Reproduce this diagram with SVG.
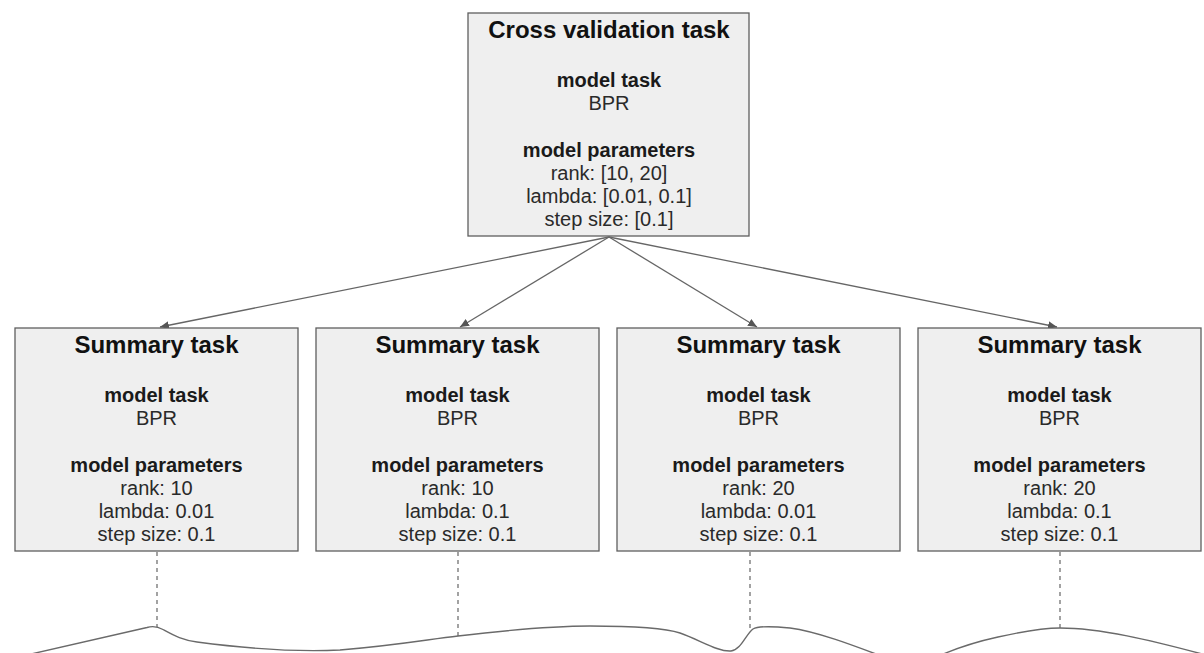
<svg xmlns="http://www.w3.org/2000/svg" width="1204" height="653" viewBox="0 0 1204 653">
  <style>
    .box { fill: #efefef; stroke: #5f5f5f; stroke-width: 1.3; }
    .title { font-family: "Liberation Sans", Arial, sans-serif; font-size: 24px; font-weight: bold; fill: #111; text-anchor: middle; }
    .head { font-family: "Liberation Sans", Arial, sans-serif; font-size: 20px; font-weight: bold; fill: #1a1a1a; text-anchor: middle; }
    .val { font-family: "Liberation Sans", Arial, sans-serif; font-size: 20px; fill: #2a2a2a; text-anchor: middle; }
    .edge { stroke: #666; stroke-width: 1.3; fill: none; }
    .dash { stroke: #666; stroke-width: 1.2; stroke-dasharray: 4 4; fill: none; }
    .wave { stroke: #6a6a6a; stroke-width: 1.4; fill: none; }
  </style>
  <defs>
    <marker id="arrow" markerUnits="userSpaceOnUse" markerWidth="10" markerHeight="10" viewBox="0 0 10 10" refX="9" refY="5" orient="auto">
      <path d="M0,1 L9,5 L0,9 Z" fill="#555"/>
    </marker>
  </defs>

  <rect width="1204" height="653" fill="#ffffff"/>

  <!-- connectors -->
  <g id="connectors">
    <line class="edge" x1="609" y1="237" x2="160" y2="327" marker-end="url(#arrow)"/>
    <line class="edge" x1="609" y1="237" x2="460" y2="327" marker-end="url(#arrow)"/>
    <line class="edge" x1="609" y1="237" x2="757" y2="327" marker-end="url(#arrow)"/>
    <line class="edge" x1="609" y1="237" x2="1057" y2="327" marker-end="url(#arrow)"/>
    <line class="dash" x1="157" y1="552" x2="157" y2="627"/>
    <line class="dash" x1="458" y1="552" x2="458" y2="636"/>
    <line class="dash" x1="750" y1="552" x2="750" y2="632"/>
    <line class="dash" x1="1060" y1="552" x2="1060" y2="628"/>
  </g>

  <!-- timeline wave -->
  <path class="wave" d="M 18 657 L 147 627.5 Q 155 625 163 629.5 C 175 636 182 640 197 642 C 250 649 300 652 340 650 C 400 645 430 639 458 636 C 500 631 550 626 590 626 C 640 626 665 628 680 633 C 700 640 718 652 731 651 C 741 650 746 634 753 629 C 758 626 770 626 790 628 C 820 632 860 648 892 660 L 930 660 C 955 648 975 642 998 637 C 1025 631 1042 628 1060 628 C 1100 628 1150 640 1206 655"/>

  <!-- cross validation node -->
  <g id="cross-validation">
    <rect class="box" x="468" y="13" width="281" height="223"/>
    <text class="title" x="609" y="38">Cross validation task</text>
    <text class="head" x="609" y="87">model task</text>
    <text class="val" x="609" y="110">BPR</text>
    <text class="head" x="609" y="157">model parameters</text>
    <text class="val" x="609" y="180">rank: [10, 20]</text>
    <text class="val" x="609" y="203">lambda: [0.01, 0.1]</text>
    <text class="val" x="609" y="226">step size: [0.1]</text>
  </g>

  <!-- summary nodes -->
  <g id="summary-1">
    <rect class="box" x="15" y="328" width="283" height="223"/>
    <text class="title" x="156.5" y="353">Summary task</text>
    <text class="head" x="156.5" y="402">model task</text>
    <text class="val" x="156.5" y="425">BPR</text>
    <text class="head" x="156.5" y="472">model parameters</text>
    <text class="val" x="156.5" y="495">rank: 10</text>
    <text class="val" x="156.5" y="518">lambda: 0.01</text>
    <text class="val" x="156.5" y="541">step size: 0.1</text>
  </g>

  <g id="summary-2">
    <rect class="box" x="316" y="328" width="283" height="223"/>
    <text class="title" x="457.5" y="353">Summary task</text>
    <text class="head" x="457.5" y="402">model task</text>
    <text class="val" x="457.5" y="425">BPR</text>
    <text class="head" x="457.5" y="472">model parameters</text>
    <text class="val" x="457.5" y="495">rank: 10</text>
    <text class="val" x="457.5" y="518">lambda: 0.1</text>
    <text class="val" x="457.5" y="541">step size: 0.1</text>
  </g>

  <g id="summary-3">
    <rect class="box" x="617" y="328" width="283" height="223"/>
    <text class="title" x="758.5" y="353">Summary task</text>
    <text class="head" x="758.5" y="402">model task</text>
    <text class="val" x="758.5" y="425">BPR</text>
    <text class="head" x="758.5" y="472">model parameters</text>
    <text class="val" x="758.5" y="495">rank: 20</text>
    <text class="val" x="758.5" y="518">lambda: 0.01</text>
    <text class="val" x="758.5" y="541">step size: 0.1</text>
  </g>

  <g id="summary-4">
    <rect class="box" x="918" y="328" width="283" height="223"/>
    <text class="title" x="1059.5" y="353">Summary task</text>
    <text class="head" x="1059.5" y="402">model task</text>
    <text class="val" x="1059.5" y="425">BPR</text>
    <text class="head" x="1059.5" y="472">model parameters</text>
    <text class="val" x="1059.5" y="495">rank: 20</text>
    <text class="val" x="1059.5" y="518">lambda: 0.1</text>
    <text class="val" x="1059.5" y="541">step size: 0.1</text>
  </g>
</svg>
